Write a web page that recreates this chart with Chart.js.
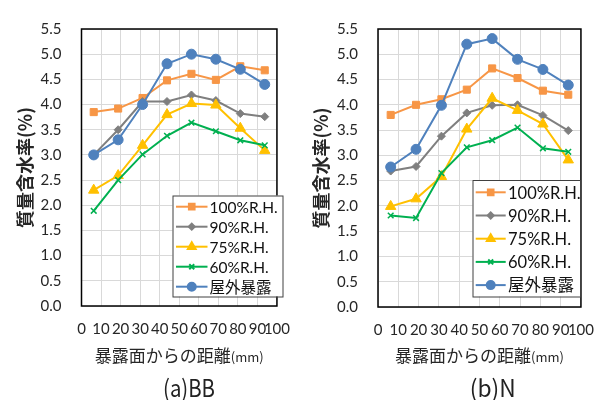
<!DOCTYPE html>
<html><head><meta charset="utf-8">
<script src="https://cdn.jsdelivr.net/npm/chart.js@4.4.1/dist/chart.umd.min.js"></script>
<style>
body{margin:0;background:#fff}
#wrap{position:relative;width:608px;height:400px}
.c{position:absolute;top:0;width:304px;height:400px}
</style></head><body>
<div id="wrap">
<div class="c" style="left:0"><canvas id="ca"></canvas></div>
<div class="c" style="left:304px"><canvas id="cb"></canvas></div>
</div>
<script>
// ---- data ----
const distances = [6.25, 18.75, 31.25, 43.75, 56.25, 68.75, 81.25, 93.75];
const seriesNames = ['100%R.H.', '90%R.H.', '75%R.H.', '60%R.H.', '屋外暴露'];
const xTickValues = [0, 10, 20, 30, 40, 50, 60, 70, 80, 90, 100];
const yTickValues = [0, 0.5, 1, 1.5, 2, 2.5, 3, 3.5, 4, 4.5, 5, 5.5];
const yTitle = '質量含水率(%)';
const xTitleMain = '暴露面からの距離';
const xTitleUnit = '(mm)';
const captionA = '(a)BB';
const captionB = '(b)N';

const bb100 = [3.85, 3.92, 4.13, 4.48, 4.61, 4.49, 4.76, 4.68];
const bb90  = [3.00, 3.50, 4.06, 4.06, 4.19, 4.08, 3.82, 3.76];
const bb75  = [2.30, 2.59, 3.19, 3.80, 4.02, 3.99, 3.53, 3.09];
const bb60  = [1.89, 2.50, 3.01, 3.38, 3.64, 3.47, 3.29, 3.19];
const bbOut = [3.00, 3.30, 4.00, 4.81, 5.00, 4.90, 4.70, 4.40];

const n100 = [3.80, 4.00, 4.11, 4.30, 4.72, 4.53, 4.28, 4.20];
const n90  = [2.69, 2.78, 3.38, 3.84, 3.99, 4.00, 3.79, 3.49];
const n75  = [1.99, 2.14, 2.58, 3.52, 4.13, 3.89, 3.62, 2.91];
const n60  = [1.81, 1.76, 2.65, 3.16, 3.30, 3.55, 3.14, 3.07];
const nOut = [2.77, 3.12, 3.99, 5.20, 5.31, 4.90, 4.70, 4.39];

// ---- styles ----
const styles = [
  {color:'#F79646', pointStyle:'rect', radius:5, lr:4, order:5},
  {color:'#7F7F7F', pointStyle:'rectRot', radius:4, lr:3, order:4},
  {color:'#FFC000', pointStyle:'triangle', radius:6, lr:4.5, order:3},
  {color:'#00B050', pointStyle:'crossRot', radius:4, lr:3.5, order:2},
  {color:'#4F81BD', pointStyle:'circle', radius:5, lr:4, order:1}
];
const TICK_FONT = {family:'Lato, "Noto Sans CJK JP"', size:15};
const CJK = '"Noto Sans CJK JP"';
const TEXT = '#262626';

function makeDatasets(arrs){
  return arrs.map((vals,i)=>({
    label: seriesNames[i],
    data: distances.map((d,j)=>({x:d, y:vals[j]})),
    borderColor: styles[i].color,
    backgroundColor: styles[i].color,
    pointBackgroundColor: styles[i].color,
    pointBorderColor: styles[i].color,
    pointStyle: styles[i].pointStyle,
    pointRadius: styles[i].radius,
    pointHoverRadius: styles[i].radius,
    pointBorderWidth: styles[i].pointStyle==='crossRot'?1.5:1,
    borderWidth: 2,
    order: styles[i].order,
    tension: 0,
    fill: false
  }));
}

function drawMarker(ctx, st, x, y){
  ctx.fillStyle = st.color; ctx.strokeStyle = st.color;
  const opts = {pointStyle: st.pointStyle, radius: st.lr, rotation: 0, borderWidth: st.pointStyle==='crossRot'?1.3:1};
  if (Chart.helpers && Chart.helpers.drawPoint) { Chart.helpers.drawPoint(ctx, opts, x, y); return; }
  ctx.beginPath(); ctx.arc(x,y,st.lr,0,Math.PI*2); ctx.fill();
}

const decorPlugin = {
  id:'decor',
  afterDraw(chart, args, o){
    const ctx = chart.ctx, ca = chart.chartArea;
    ctx.save();
    // plot border
    ctx.strokeStyle = '#000'; ctx.lineWidth = 1.5;
    ctx.strokeRect(ca.left, ca.top, ca.right-ca.left, ca.bottom-ca.top);
    // legend
    const L = o.legend;
    ctx.fillStyle = '#fff';
    ctx.fillRect(L.x, L.y, L.w, L.h);
    ctx.strokeStyle = '#404040'; ctx.lineWidth = 1;
    ctx.strokeRect(L.x+0.5, L.y+0.5, L.w, L.h);
    seriesNames.forEach((name,i)=>{
      const y = L.row0 + i*L.dy;
      const st = styles[i];
      ctx.strokeStyle = st.color; ctx.lineWidth = 2;
      ctx.beginPath(); ctx.moveTo(L.lx0, y); ctx.lineTo(L.lx1, y); ctx.stroke();
      drawMarker(ctx, st, (L.lx0+L.lx1)/2, y);
      ctx.fillStyle = '#111';
      ctx.font = L.fs + 'px Lato, ' + CJK;
      ctx.textAlign = 'left'; ctx.textBaseline = 'middle';
      ctx.fillText(name, L.tx, y+1);
    });
    // x-axis title
    const cx = (ca.left+ca.right)/2;
    ctx.fillStyle = TEXT;
    ctx.font = '17px ' + CJK;
    const w1 = ctx.measureText(xTitleMain).width;
    ctx.font = '13px ' + CJK;
    const w2 = ctx.measureText(xTitleUnit).width;
    let sx = cx - (w1+w2)/2;
    ctx.textAlign = 'left'; ctx.textBaseline = 'middle';
    ctx.font = '17px ' + CJK;
    ctx.fillText(xTitleMain, sx, o.xTitleY);
    ctx.font = '13px ' + CJK;
    ctx.fillText(xTitleUnit, sx + w1, o.xTitleY + 1.5);
    // caption
    ctx.font = '24px ' + CJK;
    const wc = ctx.measureText(o.caption).width;
    ctx.translate(o.capX, o.capY);
    ctx.scale(o.capW / wc, 1);
    ctx.textAlign = 'center';
    ctx.fillStyle = '#222';
    ctx.fillText(o.caption, 0, 0);
    ctx.restore();
  }
};

function makeChart(id, arrs, cfg){
  return new Chart(document.getElementById(id), {
    type:'line',
    data:{datasets: makeDatasets(arrs)},
    plugins:[decorPlugin],
    options:{
      responsive:true, maintainAspectRatio:false, animation:false,
      layout:{padding:{top:cfg.top, right:cfg.right, left:0, bottom:0}},
      plugins:{
        legend:{display:false}, tooltip:{enabled:false},
        decor: cfg.decor
      },
      scales:{
        x:{
          type:'linear', min:0, max:100,
          afterBuildTicks(s){ s.ticks = xTickValues.map(v=>({value:v})); },
          afterFit(s){ s.height = cfg.xh; },
          grid:{color:'#D9D9D9', lineWidth:1, drawTicks:false},
          border:{display:false},
          ticks:{autoSkip:false, maxRotation:0, padding:cfg.xpad, font:TICK_FONT, color:TEXT}
        },
        y:{
          type:'linear', min:0, max:5.5,
          afterBuildTicks(s){ s.ticks = yTickValues.map(v=>({value:v})); },
          afterFit(s){ s.width = cfg.yw; },
          grid:{color:'#D9D9D9', lineWidth:1, drawTicks:false},
          border:{display:false},
          ticks:{padding:20, font:TICK_FONT, color:TEXT, callback:v=>Number(v).toFixed(1)},
          title:{display:true, text:yTitle, color:TEXT,
                 font:{family:CJK, size:18, weight:'bold'}, padding:{top:cfg.ytp, bottom:0}}
        }
      }
    }
  });
}

makeChart('ca', [bb100, bb90, bb75, bb60, bbOut], {
  top:15, right:10.5, yw:81.5, xh:94, xpad:14, ytp:14.2,
  decor:{legend:{x:172.5, y:195.5, w:110, h:101, row0:206.7, dy:20, lx0:176, lx1:207.5, tx:209.5, fs:15.5},
         xTitleY:355.7, caption:captionA, capX:189, capY:387.5, capW:52}
});
makeChart('cb', [n100, n90, n75, n60, nOut], {
  top:19, right:20.5, yw:74, xh:93, xpad:14, ytp:5.9,
  decor:{legend:{x:168.5, y:180, w:107.5, h:116.5, row0:192.3, dy:23.2, lx0:171.7, lx1:201.7, tx:204, fs:16.5},
         xTitleY:355.7, caption:captionB, capX:188.7, capY:387.5, capW:46}
});
</script>
</body></html>
